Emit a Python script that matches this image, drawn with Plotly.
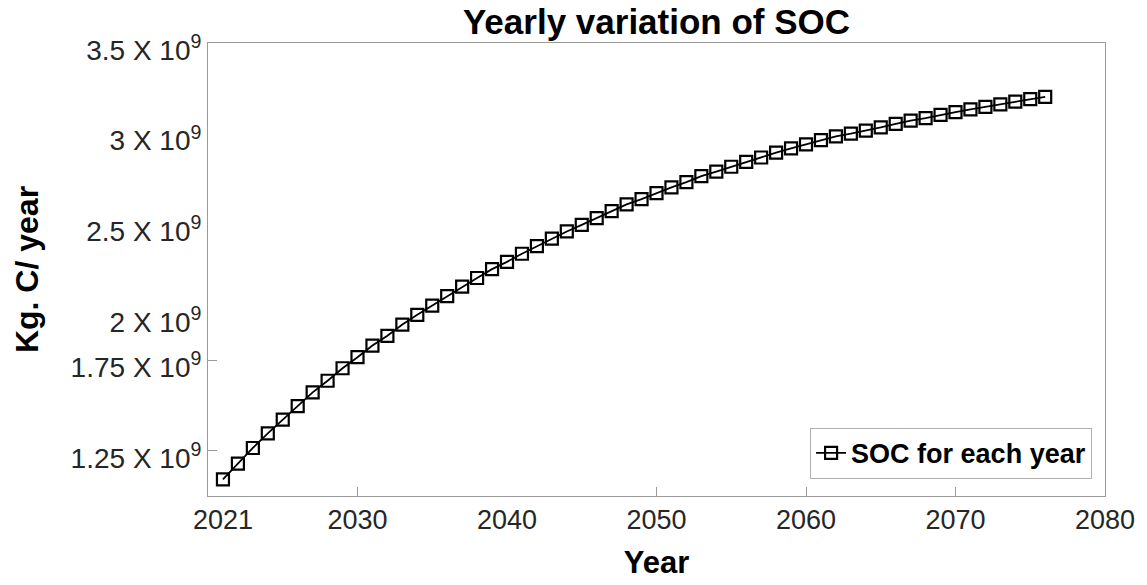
import plotly.graph_objects as go

# ---- data ----
years = list(range(2021, 2077))
soc_e9 = [1.092, 1.179, 1.265, 1.346, 1.422, 1.496, 1.572, 1.636, 1.705, 1.766,
          1.830, 1.884, 1.946, 2.000, 2.051, 2.103, 2.156, 2.203, 2.252, 2.292,
          2.337, 2.379, 2.420, 2.460, 2.496, 2.533, 2.572, 2.609, 2.638, 2.672,
          2.703, 2.732, 2.765, 2.790, 2.817, 2.844, 2.868, 2.895, 2.918, 2.940,
          2.964, 2.985, 3.000, 3.016, 3.034, 3.054, 3.072, 3.085, 3.103, 3.118,
          3.134, 3.148, 3.161, 3.176, 3.190, 3.203]
soc = [v * 1e9 for v in soc_e9]

x_label_vals = [2021, 2030, 2040, 2050, 2060, 2070, 2080]
x_tick_marks = [2030, 2050, 2060, 2070]
y_label_vals = [1.25e9, 1.75e9, 2.0e9, 2.5e9, 3.0e9, 3.5e9]
y_label_text = ["1.25 X 10<sup>9</sup>", "1.75 X 10<sup>9</sup>", "2 X 10<sup>9</sup>",
                "2.5 X 10<sup>9</sup>", "3 X 10<sup>9</sup>", "3.5 X 10<sup>9</sup>"]
y_tick_marks = [1.25e9, 1.75e9]

FONT = "Liberation Sans"
AXC = "#9a9a9a"

fig = go.Figure()
fig.add_trace(go.Scatter(
    x=years, y=soc, mode="lines+markers", name="SOC for each year",
    line=dict(color="black", width=1.8),
    marker=dict(symbol="square-open", size=12, color="black",
                line=dict(color="black", width=2.2)),
))

fig.update_layout(
    width=1147, height=585,
    margin=dict(l=208, r=39, t=43, b=84),
    paper_bgcolor="white", plot_bgcolor="white",
    title=dict(text="<b>Yearly variation of SOC</b>", x=0.5, xref="paper",
               y=1 - 22 / 585, yref="container", yanchor="middle",
               font=dict(family=FONT, size=35, color="black")),
    showlegend=True,
    legend=dict(x=0.9856, xanchor="right", y=0.038, yanchor="bottom",
                bgcolor="white", bordercolor="#b0b0b0", borderwidth=1,
                font=dict(family=FONT, size=27, color="black", weight="bold"),
                itemwidth=30),
    xaxis=dict(range=[2020, 2080], tickmode="array", tickvals=x_label_vals,
               ticks="", showline=True, linecolor=AXC, linewidth=1, mirror=True,
               showgrid=False, zeroline=False,
               tickfont=dict(family=FONT, size=27, color="#262626"),
               minor=dict(tickmode="array", tickvals=x_tick_marks, ticks="inside",
                          ticklen=9, tickcolor=AXC, tickwidth=1, showgrid=False),
               title=dict(text="<b>Year</b>", standoff=16,
                          font=dict(family=FONT, size=31, color="black"))),
    yaxis=dict(range=[1.0e9, 3.5e9], tickmode="array", tickvals=y_label_vals,
               ticktext=y_label_text, ticks="", showline=True, linecolor=AXC,
               linewidth=1, mirror=True, showgrid=False, zeroline=False,
               tickfont=dict(family=FONT, size=28, color="#262626"),
               ticklabelshift=7,
               minor=dict(tickmode="array", tickvals=y_tick_marks, ticks="inside",
                          ticklen=9, tickcolor=AXC, tickwidth=1, showgrid=False),
               title=dict(text="<b>Kg. C/ year</b>", standoff=22,
                          font=dict(family=FONT, size=32, color="black"))),
)

fig.write_html("out.html")
